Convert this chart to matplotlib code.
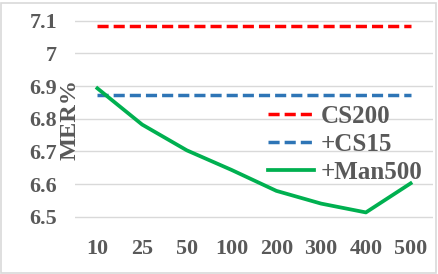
import matplotlib
matplotlib.use('Agg')
from matplotlib import pyplot as plt
from matplotlib.patches import Rectangle

# data
categories = ['10', '25', '50', '100', '200', '300', '400', '500']
cs200 = [7.084] * 8
cs15 = [6.872] * 8
man500 = [6.893, 6.782, 6.703, 6.643, 6.579, 6.540, 6.513, 6.602]
yticks = [6.5, 6.6, 6.7, 6.8, 6.9, 7.0, 7.1]
ytick_labels = ['6.5', '6.6', '6.7', '6.8', '6.9', '7', '7.1']

W, H = 439, 274
TEXT = '#595959'
FS = 15.8
plt.rcParams['font.family'] = ['Liberation Serif', 'DejaVu Serif']
plt.rcParams['font.weight'] = 'bold'

fig = plt.figure(figsize=(W / 100, H / 100), dpi=100)
# plot area in pixels: x 75..433, y 10.9..233
ax = fig.add_axes([75 / W, (H - 233) / H, (433 - 75) / W, (233 - 10.9) / H])

x = list(range(len(categories)))
dash = (3.2, 1.45)
ax.plot(x, cs200, color='#ff0000', lw=2.5, linestyle=(0, dash), label='CS200', zorder=3)
ax.plot(x, cs15, color='#2e75b6', lw=2.5, linestyle=(0, dash), label='+CS15', zorder=3)
ax.plot(x, man500, color='#00b050', lw=2.7, label='+Man500', zorder=4)

ax.set_xlim(-0.5, len(categories) - 0.5)
ax.set_ylim(6.45, 7.13)
ax.set_yticks(yticks)
ax.set_yticklabels(ytick_labels)
ax.set_xticks(x)
ax.set_xticklabels(categories)
ax.tick_params(axis='both', length=0, labelsize=FS, colors=TEXT)
ax.tick_params(axis='y', pad=13)
ax.tick_params(axis='x', pad=4)
ax.grid(axis='y', color='#d9d9d9', lw=1.0, zorder=0)
ax.set_axisbelow(True)
for s in ax.spines.values():
    s.set_visible(False)

fig.text(70 / W, 1 - 119 / H, 'MER%', rotation=90, ha='center', va='center',
         fontsize=17.5, color=TEXT, fontweight='bold')

leg = fig.legend(loc='upper left', bbox_to_anchor=(268 / W, 1 - 105 / H),
                 frameon=False, fontsize=18, handlelength=1.84,
                 handletextpad=0.28, labelspacing=0.2, borderpad=0,
                 borderaxespad=0)
for t in leg.get_texts():
    t.set_color(TEXT)

fig.patches.append(Rectangle((1.5 / W, 1.5 / H), (W - 4) / W, (H - 4) / H,
                             transform=fig.transFigure, fill=False,
                             edgecolor='#d9d9d9', lw=1.2))

fig.savefig('out.png', dpi=100)
